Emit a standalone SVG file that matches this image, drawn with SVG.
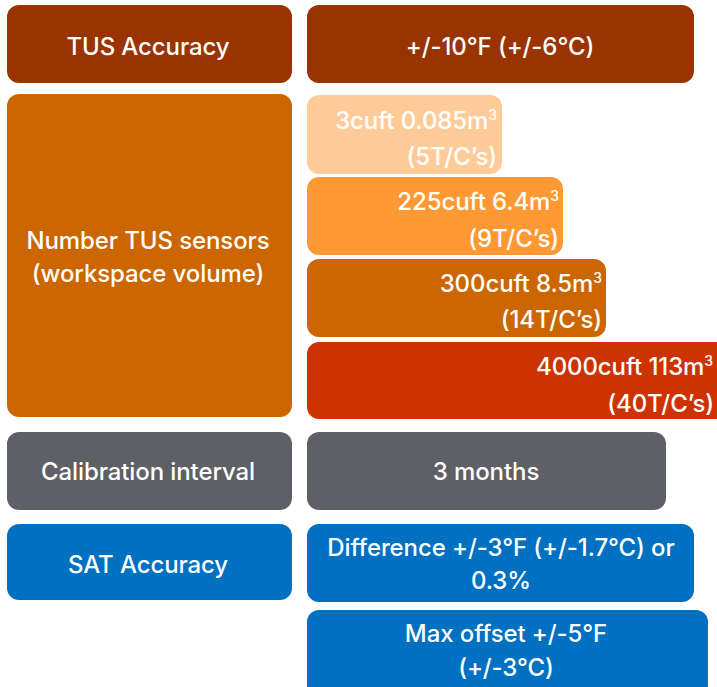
<svg xmlns="http://www.w3.org/2000/svg" width="717" height="687" viewBox="0 0 717 687">
<style>
text{font-family:Inter,"Liberation Sans","DejaVu Sans",sans-serif;font-size:24px;font-weight:500;fill:#fff;letter-spacing:-0.1px}
.c{text-anchor:middle}
.r{text-anchor:end}
.sup{font-size:14px}
</style>
<rect width="717" height="687" fill="#fff"/>
<g id="tus-accuracy-label"><rect x="7" y="5" width="285" height="78" rx="12" fill="#993300"/><text class="c" x="148" y="55">TUS Accuracy</text></g>
<g id="tus-accuracy-value"><rect x="307" y="5" width="387" height="78" rx="12" fill="#993300"/><text class="c" x="500" y="55">+/-10°F (+/-6°C)</text></g>
<g id="sensors-label"><rect x="7" y="94" width="285" height="323" rx="12" fill="#CC6600"/><text class="c" x="148" y="249">Number TUS sensors</text><text class="c" x="148" y="282">(workspace volume)</text></g>
<g id="sensors-3cuft"><rect x="307" y="95" width="195" height="79" rx="12" fill="#FFCC99"/><text class="r" x="497" y="129">3cuft 0.085m<tspan class="sup" dy="-9">3</tspan></text><text class="r" x="497" y="165">(5T/C’s)</text></g>
<g id="sensors-225cuft"><rect x="307" y="177" width="256" height="78" rx="12" fill="#FF9933"/><text class="r" x="559" y="210">225cuft 6.4m<tspan class="sup" dy="-9">3</tspan></text><text class="r" x="559" y="247">(9T/C’s)</text></g>
<g id="sensors-300cuft"><rect x="307" y="259" width="299" height="78" rx="12" fill="#CC6600"/><text class="r" x="602" y="292">300cuft 8.5m<tspan class="sup" dy="-9">3</tspan></text><text class="r" x="602" y="328">(14T/C’s)</text></g>
<g id="sensors-4000cuft"><rect x="307" y="342" width="430" height="77" rx="12" fill="#CC3300"/><text class="r" x="713" y="375">4000cuft 113m<tspan class="sup" dy="-9">3</tspan></text><text class="r" x="714" y="412">(40T/C’s)</text></g>
<g id="calibration-label"><rect x="7" y="432" width="285" height="78" rx="12" fill="#5F5F66"/><text class="c" x="148" y="480">Calibration  interval</text></g>
<g id="calibration-value"><rect x="307" y="432" width="359" height="78" rx="12" fill="#5F5F66"/><text class="c" x="486" y="480">3 months</text></g>
<g id="sat-accuracy-label"><rect x="7" y="524" width="285" height="76" rx="12" fill="#0070C0"/><text class="c" x="148" y="573">SAT Accuracy</text></g>
<g id="sat-difference"><rect x="307" y="524" width="387" height="78" rx="12" fill="#0070C0"/><text class="c" x="501" y="556">Difference +/-3°F (+/-1.7°C) or</text><text class="c" x="501" y="589">0.3%</text></g>
<g id="sat-offset"><rect x="307" y="610" width="401" height="90" rx="12" fill="#0070C0"/><text class="c" x="506" y="642">Max offset +/-5°F</text><text class="c" x="506" y="676">(+/-3°C)</text></g>
<g id="connectors"/>
</svg>
